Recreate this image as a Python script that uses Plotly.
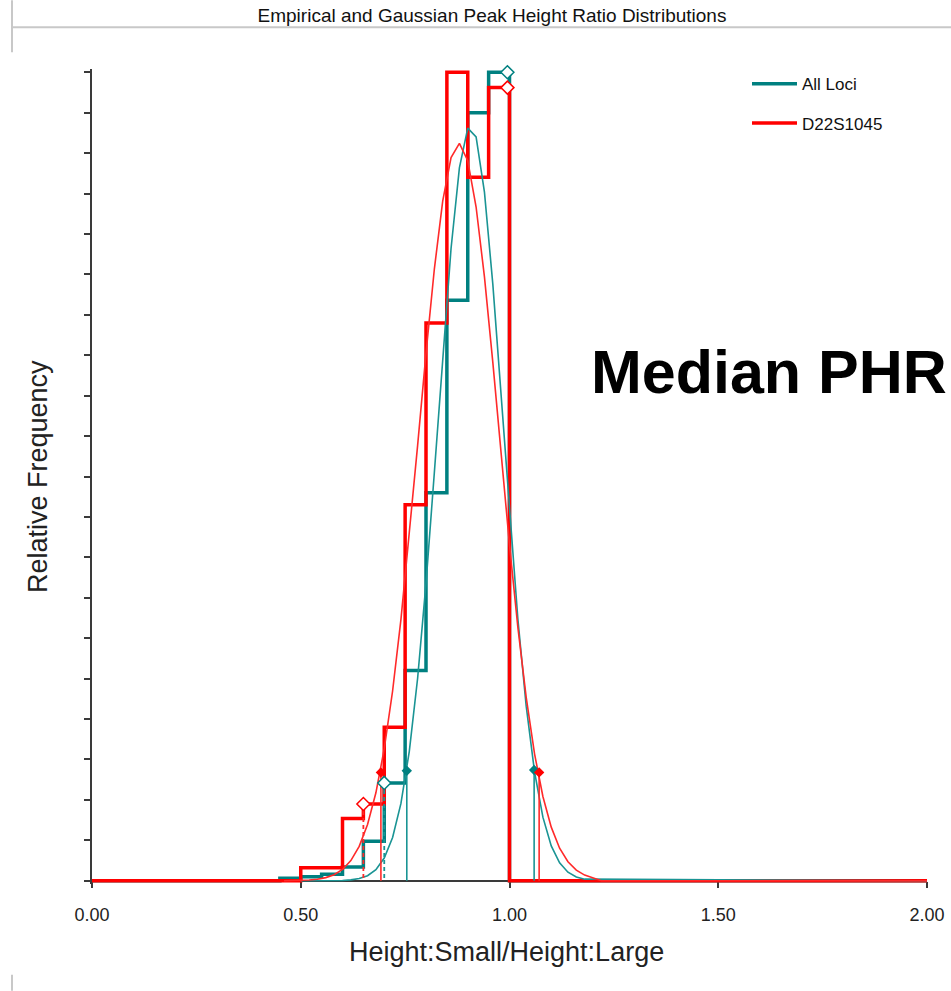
import plotly.graph_objects as go

# ---------------- data ----------------
# Empirical step histograms (left bin edges, relative frequency; last edge closes the line)
edges_all = [0.00, 0.45, 0.50, 0.55, 0.60, 0.65, 0.70, 0.75, 0.80, 0.85, 0.90, 0.95, 1.00, 2.00]
freq_all = [0.000, 0.003, 0.005, 0.008, 0.017, 0.049, 0.121, 0.260, 0.480, 0.718, 0.950, 1.000, 0.000, 0.000]

edges_d22 = [0.00, 0.50, 0.55, 0.60, 0.65, 0.70, 0.75, 0.80, 0.85, 0.90, 0.95, 1.00, 2.00]
freq_d22 = [0.000, 0.016, 0.016, 0.077, 0.095, 0.190, 0.465, 0.690, 1.000, 0.870, 0.981, 0.000, 0.000]

# Gaussian curves
gx_all = [0.50, 0.56, 0.58, 0.60, 0.62, 0.64, 0.66, 0.68, 0.70, 0.72, 0.74, 0.76, 0.78, 0.80,
          0.82, 0.84, 0.86, 0.88, 0.90, 0.92, 0.94, 0.96, 0.98, 1.00, 1.02, 1.04, 1.06, 1.08,
          1.10, 1.12, 1.14, 1.16, 1.18, 2.00]
gy_all = [0.000, 0.000, 0.0001, 0.0004, 0.0011, 0.0027, 0.0063, 0.0138, 0.0281, 0.0536, 0.0957,
          0.1601, 0.2508, 0.3678, 0.5049, 0.6494, 0.7820, 0.8816, 0.9308, 0.9201, 0.8517, 0.7382,
          0.5991, 0.4553, 0.3240, 0.2159, 0.1347, 0.0787, 0.0431, 0.0221, 0.0106, 0.0047, 0.0020,
          0.000]

gx_d22 = [0.46, 0.48, 0.50, 0.52, 0.54, 0.56, 0.58, 0.60, 0.62, 0.64, 0.66, 0.68, 0.70, 0.72,
          0.74, 0.76, 0.78, 0.80, 0.82, 0.84, 0.86, 0.88, 0.90, 0.92, 0.94, 0.96, 0.98, 1.00,
          1.02, 1.04, 1.06, 1.08, 1.10, 1.12, 1.14, 1.16, 1.18, 1.20, 1.22, 2.00]
gy_d22 = [0.000, 0.0002, 0.0004, 0.0009, 0.0019, 0.0039, 0.0075, 0.0140, 0.0249, 0.0425, 0.0695,
          0.1088, 0.1633, 0.2347, 0.3233, 0.4266, 0.5388, 0.6522, 0.7566, 0.8405, 0.8945, 0.9120,
          0.8906, 0.8333, 0.7469, 0.6414, 0.5272, 0.4155, 0.3137, 0.2269, 0.1570, 0.1042, 0.0663,
          0.0403, 0.0235, 0.0131, 0.0070, 0.0036, 0.000, 0.000]

# Empirical percentile markers (open diamonds)
emp_x_all = [0.70, 0.995]
emp_y_all = [0.121, 1.000]
emp_x_d22 = [0.65, 0.995]
emp_y_d22 = [0.095, 0.981]

# Gaussian 2.5% / 97.5% markers (filled diamonds)
gau_x_all = [0.754, 1.059]
gau_y_all = [0.136, 0.137]
gau_x_d22 = [0.692, 1.071]
gau_y_d22 = [0.134, 0.134]

x_ticks = [0.0, 0.5, 1.0, 1.5, 2.0]
x_tick_text = ["0.00", "0.50", "1.00", "1.50", "2.00"]

# ---------------- styling ----------------
TEAL = "#008080"
TEAL_THIN = "#1a9494"
RED = "#ff0000"
RED_THIN = "#ff2a2a"
FONT = "Liberation Sans, Arial, sans-serif"

W, H = 951, 991
L_PX, R_PX = 92, 927
Y0_PX, Y1_PX = 881, 72
YPAD = 0.004
ppu = (Y0_PX - Y1_PX)  # pixels per unit on y
top_px = Y1_PX - YPAD * ppu
bot_px = Y0_PX + YPAD * ppu


def px_x(px):
    return (px - L_PX) / (R_PX - L_PX)


def px_y(py):
    return (bot_px - py) / (bot_px - top_px)


def vlines(xs, ys):
    vx, vy = [], []
    for x, y in zip(xs, ys):
        vx += [x, x, None]
        vy += [y, 0, None]
    return vx, vy


fig = go.Figure()

fig.add_trace(go.Scatter(x=edges_all, y=freq_all, mode="lines", line_shape="hv",
                         line=dict(color=TEAL, width=3.5), name="All Loci",
                         legendgroup="a"))
fig.add_trace(go.Scatter(x=edges_d22, y=freq_d22, mode="lines", line_shape="hv",
                         line=dict(color=RED, width=3.5), name="D22S1045",
                         legendgroup="b"))
fig.add_trace(go.Scatter(x=gx_all, y=gy_all, mode="lines",
                         line=dict(color=TEAL_THIN, width=1.6), showlegend=False))
fig.add_trace(go.Scatter(x=gx_d22, y=gy_d22, mode="lines",
                         line=dict(color=RED_THIN, width=1.6), showlegend=False))

# Gaussian percentile verticals (solid thin)
vx, vy = vlines(gau_x_all, gau_y_all)
fig.add_trace(go.Scatter(x=vx, y=vy, mode="lines", line=dict(color=TEAL_THIN, width=1.6),
                         showlegend=False))
vx, vy = vlines(gau_x_d22, gau_y_d22)
fig.add_trace(go.Scatter(x=vx, y=vy, mode="lines", line=dict(color=RED_THIN, width=1.6),
                         showlegend=False))
# Empirical lower percentile verticals (dashed)
vx, vy = vlines(emp_x_all[:1], emp_y_all[:1])
fig.add_trace(go.Scatter(x=vx, y=vy, mode="lines",
                         line=dict(color=TEAL_THIN, width=1.8, dash="4px,3px"), showlegend=False))
vx, vy = vlines(emp_x_d22[:1], emp_y_d22[:1])
fig.add_trace(go.Scatter(x=vx, y=vy, mode="lines",
                         line=dict(color=RED_THIN, width=1.8, dash="4px,3px"), showlegend=False))

# markers
fig.add_trace(go.Scatter(x=gau_x_all, y=gau_y_all, mode="markers", cliponaxis=False,
                         marker=dict(symbol="diamond", size=8, color=TEAL), showlegend=False))
fig.add_trace(go.Scatter(x=gau_x_d22, y=gau_y_d22, mode="markers", cliponaxis=False,
                         marker=dict(symbol="diamond", size=8, color=RED), showlegend=False))
fig.add_trace(go.Scatter(x=emp_x_all, y=emp_y_all, mode="markers", cliponaxis=False,
                         marker=dict(symbol="diamond", size=10, color="white",
                                     line=dict(color=TEAL, width=1.5)), showlegend=False))
fig.add_trace(go.Scatter(x=emp_x_d22, y=emp_y_d22, mode="markers", cliponaxis=False,
                         marker=dict(symbol="diamond", size=10, color="white",
                                     line=dict(color=RED, width=1.5)), showlegend=False))

AX = "#3a3a3a"
fig.update_layout(
    width=W, height=H,
    margin=dict(l=L_PX, r=W - R_PX, t=top_px, b=H - bot_px, pad=0, autoexpand=False),
    paper_bgcolor="white", plot_bgcolor="white",
    font=dict(family=FONT, color="#222222"),
    title=dict(text="Empirical and Gaussian Peak Height Ratio Distributions",
               x=492 / W, xanchor="center", xref="container",
               y=1 - 15 / H, yanchor="middle", yref="container",
               font=dict(size=19, color="#111111", family=FONT)),
    xaxis=dict(range=[0, 2], tickvals=x_ticks, ticktext=x_tick_text,
               showgrid=False, zeroline=False, showline=True, linecolor=AX, linewidth=2,
               ticks="outside", ticklen=6, tickwidth=2, tickcolor=AX,
               tickfont=dict(size=18, color="#222222"), ticklabelstandoff=12,
               anchor="free", position=px_y(Y0_PX), layer="below traces",
               automargin=False),
    yaxis=dict(range=[-YPAD, 1 + YPAD], tick0=0, dtick=0.05, showticklabels=False,
               showgrid=False, zeroline=False, showline=True, linecolor=AX, linewidth=2,
               ticks="outside", ticklen=6, tickwidth=2, tickcolor=AX, layer="below traces",
               automargin=False),
    legend=dict(x=px_x(747), y=px_y(66), xanchor="left", yanchor="top",
                bgcolor="rgba(0,0,0,0)", font=dict(size=17, color="#111111", family=FONT),
                itemwidth=45, tracegroupgap=14),
    showlegend=True,
)

# axis titles as annotations
fig.add_annotation(text="Height:Small/Height:Large", xref="paper", yref="paper",
                   x=px_x(506), y=px_y(952), xanchor="center", yanchor="middle",
                   showarrow=False, font=dict(size=27, color="#222222", family=FONT))
fig.add_annotation(text="Relative Frequency", xref="paper", yref="paper",
                   x=px_x(38), y=px_y(477), xanchor="center", yanchor="middle",
                   textangle=-90, showarrow=False,
                   font=dict(size=27, color="#222222", family=FONT))
# overlay text
fig.add_annotation(text="<b>Median PHR</b>", xref="paper", yref="paper",
                   x=px_x(949), y=px_y(372), xanchor="right", yanchor="middle",
                   showarrow=False, font=dict(size=61, color="black", family=FONT))

# window frame lines
GRAY = "#c8c8c8"
fig.add_shape(type="line", xref="paper", yref="paper", x0=px_x(12), x1=px_x(951),
              y0=px_y(27), y1=px_y(27), line=dict(color=GRAY, width=2))
fig.add_shape(type="line", xref="paper", yref="paper", x0=px_x(12), x1=px_x(12),
              y0=px_y(0), y1=px_y(52), line=dict(color=GRAY, width=2))
fig.add_shape(type="line", xref="paper", yref="paper", x0=px_x(12), x1=px_x(12),
              y0=px_y(975), y1=px_y(991), line=dict(color=GRAY, width=2))

fig.write_html("out.html")
